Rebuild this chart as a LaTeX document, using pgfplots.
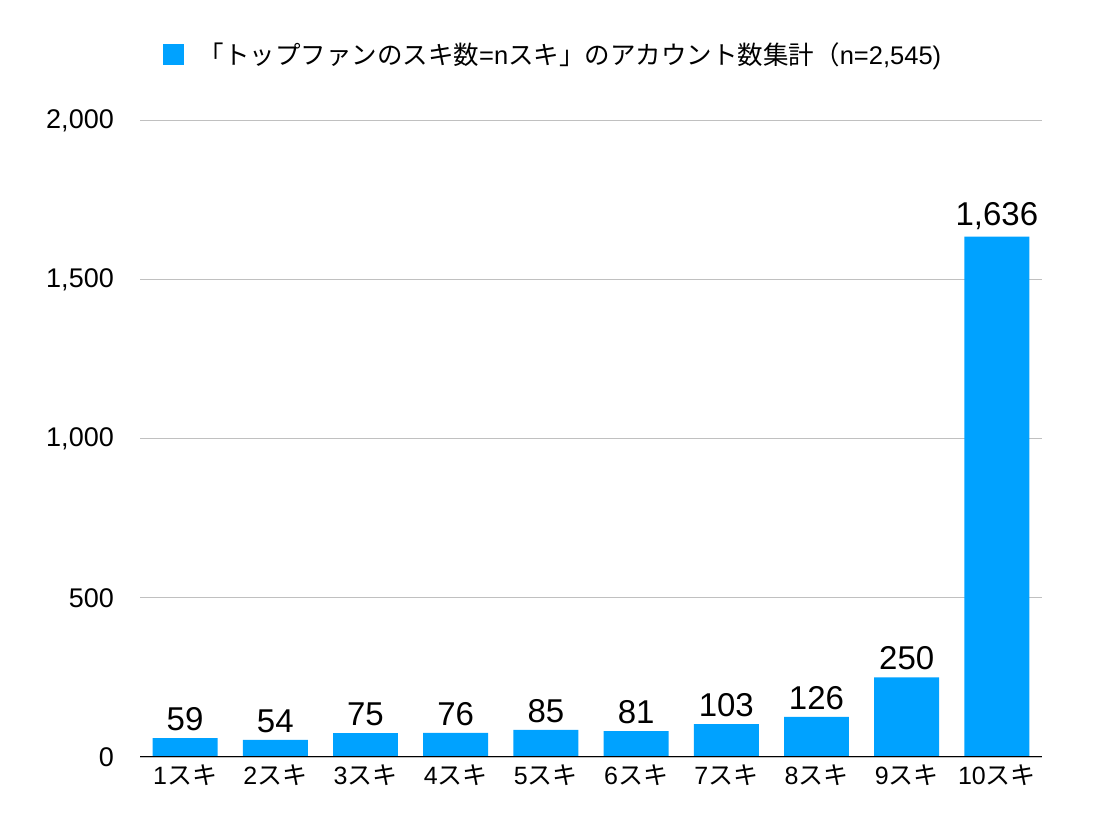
\documentclass[border=0pt]{standalone}
\usepackage{fontspec}
\setmainfont{Liberation Sans}
\newfontfamily\cjk{Noto Sans CJK JP}
\usepackage{pgfplots}
\pgfplotsset{compat=1.18}
\definecolor{barblue}{RGB}{0,162,255}
\definecolor{gridgray}{RGB}{192,192,192}
\begin{document}
\begin{tikzpicture}
\useasboundingbox (0,0) rectangle (1102bp,832bp);
\begin{axis}[
  at={(140bp,75bp)}, anchor=south west,
  scale only axis, width=902bp, height=636bp,
  xmin=-0.5, xmax=9.5, ymin=0, ymax=2000,
  ytick={0,500,1000,1500,2000},
  xtick={0,...,9},
  xticklabels={1{\cjk スキ},2{\cjk スキ},3{\cjk スキ},4{\cjk スキ},5{\cjk スキ},6{\cjk スキ},7{\cjk スキ},8{\cjk スキ},9{\cjk スキ},10{\cjk スキ}},
  scaled y ticks=false,
  /pgf/number format/.cd, 1000 sep={,}, assume math mode=true, /pgfplots/.cd,
  axis line style={draw=none},
  major tick length=0pt,
  ymajorgrids, grid style={gridgray, line width=1bp},
  yticklabel style={font=\fontsize{27bp}{32bp}\selectfont, anchor=east, inner sep=0pt, xshift=-26bp},
  xticklabel style={font=\fontsize{25bp}{30bp}\selectfont, anchor=north, inner sep=0pt, yshift=-8bp},
  ybar, bar width=0.72,
  nodes near coords,
  every node near coord/.append style={font=\fontsize{33bp}{38bp}\selectfont, black, inner sep=0pt, yshift=7bp},
  legend style={at={(axis description cs:0.025,1.105)}, anchor=west, draw=none, fill=none, inner sep=0pt,
    font=\fontsize{25.5bp}{30bp}\selectfont, legend cell align=left},
  legend image code/.code={\fill[barblue] (0bp,-10.5bp) rectangle (21bp,10.5bp);},
]
\addplot[fill=barblue, draw=none] coordinates {
  (0,59) (1,54) (2,75) (3,76) (4,85) (5,81) (6,103) (7,126) (8,250) (9,1636)
};
\addlegendentry{\hspace{13bp}{\cjk 「トップファンのスキ数}=n{\cjk スキ」のアカウント数集計（}n=2,545)}
\draw[black, line width=1.6bp] (axis cs:-0.5,0) -- (axis cs:9.5,0);
\end{axis}
\end{tikzpicture}
\end{document}
